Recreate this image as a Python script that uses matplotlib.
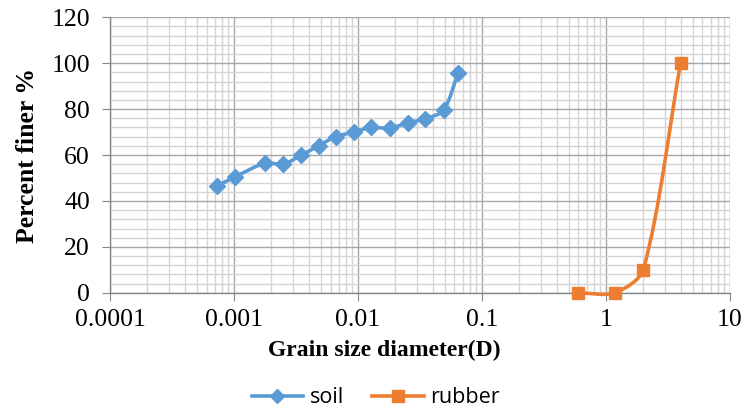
import numpy as np
import matplotlib
matplotlib.use("Agg")
import matplotlib.pyplot as plt
from matplotlib.path import Path
from matplotlib.patches import PathPatch
from matplotlib.lines import Line2D
from matplotlib.ticker import LogLocator, MultipleLocator, FixedLocator, NullFormatter

# grain size data
soil_d = [0.00073, 0.00102, 0.00178, 0.0025, 0.0035, 0.0048, 0.0066, 0.0093,
          0.0127, 0.018, 0.0253, 0.035, 0.049, 0.064]
soil_pf = [46.5, 50.5, 56.5, 56, 60, 64, 68, 70, 72, 71.7, 74, 75.8, 79.5, 95.5]

rubber_d = [0.6, 1.18, 2.0, 4.0]
rubber_pf = [0, 0, 10, 100]

x_ticks = [0.0001, 0.001, 0.01, 0.1, 1, 10]
x_tick_labels = ["0.0001", "0.001", "0.01", "0.1", "1", "10"]

blue = "#5B9BD5"
orange = "#ED7D31"

W, H = 7.44, 4.09
box = [0.148, 0.284, 0.833, 0.674]
# pixels per decade / per percent, so the smoothing is done in screen space
sx = box[2] * W * 100 / 5
sy = box[3] * H * 100 / 120


def smooth_path(xs, ys, k=0.28):
    # excel style smoothed line: bezier segments with tangent handles
    p = np.column_stack([np.log10(xs) * sx, np.array(ys, float) * sy])
    n = len(p)
    tang = []
    for i in range(n):
        a = p[max(i - 1, 0)]
        b = p[min(i + 1, n - 1)]
        d = b - a
        tang.append(d / np.hypot(*d))
    back = lambda q: (10 ** (q[0] / sx), q[1] / sy)
    verts = [back(p[0])]
    codes = [Path.MOVETO]
    for i in range(n - 1):
        L = np.hypot(*(p[i + 1] - p[i]))
        c1 = p[i] + tang[i] * L * k
        c2 = p[i + 1] - tang[i + 1] * L * k
        verts += [back(c1), back(c2), back(p[i + 1])]
        codes += [Path.CURVE4] * 3
    return Path(verts, codes)


fig = plt.figure(figsize=(W, H), dpi=100)
ax = fig.add_axes(box)
ax.set_xscale("log")
ax.set_xlim(0.0001, 10)
ax.set_ylim(0, 120)

for xs, ys, c, m, ms in [(soil_d, soil_pf, blue, "D", 8),
                         (rubber_d, rubber_pf, orange, "s", 9)]:
    ax.add_patch(PathPatch(smooth_path(xs, ys), fill=False, edgecolor=c, lw=2.6,
                           zorder=3, clip_on=False))
    ax.plot(xs, ys, ls="none", marker=m, ms=ms, color=c, zorder=4, clip_on=False)

ax.xaxis.set_major_locator(FixedLocator(x_ticks))
ax.set_xticklabels(x_tick_labels)
ax.xaxis.set_minor_locator(LogLocator(base=10, subs=np.arange(2, 10)))
ax.xaxis.set_minor_formatter(NullFormatter())
ax.yaxis.set_major_locator(MultipleLocator(20))
ax.yaxis.set_minor_locator(MultipleLocator(4))

ax.grid(which="major", color="#a6a6a6", lw=1.0, zorder=1)
ax.grid(which="minor", color="#d4d4d4", lw=1.0, zorder=0)
ax.set_axisbelow(True)

for s in ["top", "right"]:
    ax.spines[s].set_visible(False)
for s in ["left", "bottom"]:
    ax.spines[s].set_color("#868686")
    ax.spines[s].set_linewidth(1.0)

ax.tick_params(which="major", direction="out", length=5.5, color="#868686",
               labelsize=18.5, labelfontfamily="Liberation Serif")
ax.tick_params(axis="x", pad=6)
ax.tick_params(axis="y", pad=9)
ax.tick_params(which="minor", length=0)

ax.set_xlabel("Grain size diameter(D)", fontsize=17, fontweight="bold",
              family="Liberation Serif")
ax.set_ylabel("Percent finer %", fontsize=18.5, fontweight="bold",
              family="Liberation Serif")
ax.xaxis.set_label_coords(0.442, -0.17)
ax.yaxis.set_label_coords(-0.115, 0.5)

handles = [Line2D([], [], color=blue, lw=2.6, marker="D", ms=7),
           Line2D([], [], color=orange, lw=2.6, marker="s", ms=8)]
fig.legend(handles, ["soil", "rubber"], loc="center", bbox_to_anchor=(0.505, 0.028),
           ncol=2, frameon=False, prop={"family": "Open Sans", "size": 15.5},
           handlelength=2.4, columnspacing=1.3, handletextpad=0.3)

fig.savefig("out.png", dpi=100)
